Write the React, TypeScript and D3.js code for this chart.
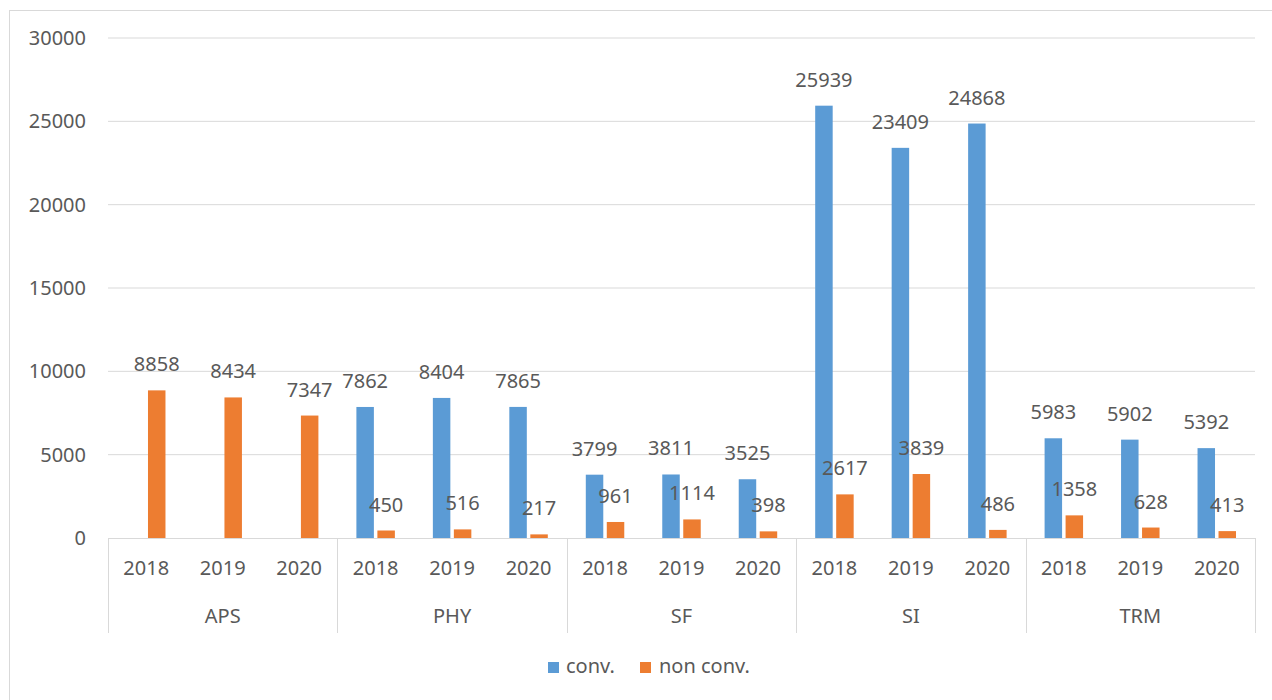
import React from 'react';
import * as d3 from 'd3';

const groups = ['APS', 'PHY', 'SF', 'SI', 'TRM'];
const years = ['2018', '2019', '2020'];
const seriesNames = ['conv.', 'non conv.'];
const colors = ['#5B9BD5', '#ED7D31'];

// one value per group/year, in order
const convValues = [null, null, null, 7862, 8404, 7865, 3799, 3811, 3525, 25939, 23409, 24868, 5983, 5902, 5392];
const nonConvValues = [8858, 8434, 7347, 450, 516, 217, 961, 1114, 398, 2617, 3839, 486, 1358, 628, 413];
const yTicks = [0, 5000, 10000, 15000, 20000, 25000, 30000];

const width = 1272;
const height = 700;
const plot = { left: 108, right: 1255, top: 38, bottom: 538 };
const textColor = '#595959';
const gridColor = '#d9d9d9';
const font = '"Noto Sans", "Open Sans", sans-serif';

const App = () => {
  const x0 = d3.scaleBand().domain(groups).range([plot.left, plot.right]);
  const x1 = d3.scaleBand().domain(years).range([0, x0.bandwidth()]);
  const x2 = d3.scaleBand().domain(seriesNames).range([0, x1.bandwidth()])
    .paddingInner(0.167).paddingOuter(0.905);
  const y = d3.scaleLinear().domain([0, 30000]).range([plot.bottom, plot.top]);

  const rows = [];
  groups.forEach((g, gi) => {
    years.forEach((yr, yi) => {
      const i = gi * years.length + yi;
      [convValues[i], nonConvValues[i]].forEach((v, si) => {
        if (v == null) return;
        rows.push({ g, yr, s: seriesNames[si], v, color: colors[si] });
      });
    });
  });

  return (
    <svg width={width} height={height} style={{ position: 'absolute', left: 0, top: 0, fontFamily: font }}>
      <rect x={0} y={0} width={width} height={height} fill="#fff" />
      <rect x={9.5} y={10.5} width={width + 20} height={height + 20} fill="none" stroke={gridColor} />

      {yTicks.map(t => (
        <g key={t}>
          {t > 0 && (
            <line x1={plot.left} x2={plot.right} y1={y(t)} y2={y(t)} stroke={gridColor} strokeWidth={1} />
          )}
          <text x={86} y={y(t)} dy="0.35em" textAnchor="end" fontSize={20} fill={textColor}>{t}</text>
        </g>
      ))}

      {rows.map(d => {
        const bx = x0(d.g) + x1(d.yr) + x2(d.s);
        return (
          <g key={d.g + d.yr + d.s}>
            <rect x={bx} y={y(d.v)} width={x2.bandwidth()} height={plot.bottom - y(d.v)} fill={d.color} />
            <text x={bx + x2.bandwidth() / 2} y={y(d.v) - 19} textAnchor="middle" fontSize={20} fill={textColor}>{d.v}</text>
          </g>
        );
      })}

      <line x1={plot.left} x2={plot.right} y1={plot.bottom + 0.5} y2={plot.bottom + 0.5} stroke={gridColor} />
      {[...groups.map(g => x0(g)), plot.right].map((px, i) => (
        <line key={i} x1={Math.round(px) + 0.5} x2={Math.round(px) + 0.5} y1={plot.bottom} y2={633} stroke={gridColor} />
      ))}
      {groups.map(g => (
        <g key={g}>
          {years.map(yr => (
            <text key={yr} x={x0(g) + x1(yr) + x1.bandwidth() / 2} y={575} textAnchor="middle" fontSize={20} fill={textColor}>{yr}</text>
          ))}
          <text x={x0(g) + x0.bandwidth() / 2} y={623} textAnchor="middle" fontSize={20} fill={textColor}>{g}</text>
        </g>
      ))}

      <g>
        <rect x={548} y={662} width={11} height={11} fill={colors[0]} />
        <text x={566} y={673} fontSize={20} fill={textColor}>{seriesNames[0]}</text>
        <rect x={640} y={662} width={11} height={11} fill={colors[1]} />
        <text x={659} y={673} fontSize={20} fill={textColor}>{seriesNames[1]}</text>
      </g>
    </svg>
  );
};

export default App;
